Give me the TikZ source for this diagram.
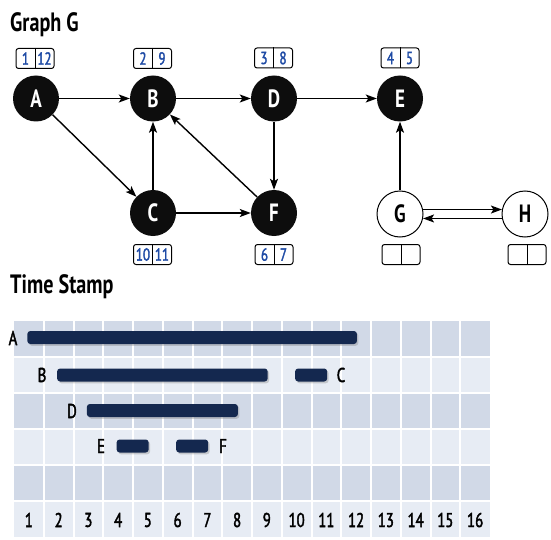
\documentclass[tikz,border=0pt]{standalone}
\usepackage{fontspec}
\setmainfont{PT Sans}[FakeStretch=0.76]
\newfontfamily\medfont{PT Sans}[FakeStretch=0.74, FakeBold=2]
\usetikzlibrary{arrows.meta,shadows,calc}
\definecolor{numblue}{HTML}{1F4BA5}
\definecolor{navy}{HTML}{14284F}
\definecolor{rowdark}{HTML}{D1D9E7}
\definecolor{rowlight}{HTML}{E7ECF4}
\newcommand\tstamp[5]{%
  \node[tsbox] (#1) at (#2,#3) {};
  \draw[line width=1pt] (#1.north) -- (#1.south);
  \node[tsnum] (#1d) at ($(#1.center)+(-9.5,0)$) {#4};
  \node[tsnum] (#1f) at ($(#1.center)+(9.5,0)$) {#5};
}
\newcommand\tbar[4]{% name, y, d, f
  \fill[navy, rounded corners=3pt, drop shadow={shadow xshift=1.5pt, shadow yshift=-1.8pt, opacity=0.35}]
    ({14+29.75*(#3-0.5)-1.5},{#2-6.5}) rectangle ({14+29.75*(#4-0.5)+0.8},{#2+6.5});
  \coordinate (#1) at ({14+29.75*(#3-0.5)},#2);
}
\begin{document}
\begin{tikzpicture}[x=1pt,y=-1pt,
  vtx/.style={circle, fill=black!95, minimum size=46pt, inner sep=0pt, text=white,
    font=\fontsize{25}{25}\selectfont\bfseries},
  wvtx/.style={circle, draw=black, line width=1pt, fill=white, minimum size=46pt, inner sep=0pt,
    font=\fontsize{25}{25}\selectfont\bfseries},
  edge/.style={line width=1.4pt, -{Stealth[length=11pt,width=8pt,inset=2.5pt]}},
  tsbox/.style={draw, line width=1pt, rounded corners=2.5pt, minimum width=38pt, minimum height=20pt, inner sep=0pt},
  tsnum/.style={text=numblue, font=\fontsize{17.5}{17.5}\medfont, inner sep=0pt},
  title/.style={anchor=base west, inner sep=0pt, font=\fontsize{26.5}{26.5}\selectfont\bfseries},
  lbl/.style={inner sep=0pt, font=\fontsize{20}{20}\medfont},
]
\useasboundingbox (0,0) rectangle (551,540);

% titles
\node[title] (t1) at (10,32) {Graph G};
\node[title] (t2) at (10,293) {Time Stamp};

% vertices
\node[vtx] (A) at (36,98.5) {A};
\node[vtx] (B) at (153,98.5) {B};
\node[vtx] (D) at (274,98.5) {D};
\node[vtx] (E) at (400,98.5) {E};
\node[vtx] (C) at (153,213) {C};
\node[vtx] (F) at (274,213) {F};
\node[wvtx] (G) at (400,214) {G};
\node[wvtx] (H) at (525,214) {H};

% time stamp boxes
\tstamp{tA}{35}{58.5}{1}{12}
\tstamp{tB}{152.5}{58.5}{2}{9}
\tstamp{tD}{273.5}{58}{3}{8}
\tstamp{tE}{400}{58}{4}{5}
\tstamp{tC}{152.5}{254.5}{10}{11}
\tstamp{tF}{274}{254.5}{6}{7}
\tstamp{tG}{401}{254.5}{}{}
\tstamp{tH}{527}{254.5}{}{}

% edges
\draw[edge] (A) -- (B);
\draw[edge] (B) -- (D);
\draw[edge] (D) -- (E);
\draw[edge] (A) -- (C);
\draw[edge] (C) -- (B);
\draw[edge] (C) -- (F);
\draw[edge] (F) -- (B);
\draw[edge] (D) -- (F);
\draw[edge] (G) -- (E);
\draw[edge] (G.11) -- (H.169);
\draw[edge] (H.191) -- (G.-11);

% grid
\foreach \r/\c in {0/rowdark,1/rowlight,2/rowdark,3/rowlight,4/rowdark,5/rowlight}
  \fill[\c] (14,{321+36*\r}) rectangle (490,{357+36*\r});
\foreach \i in {1,...,15}
  \draw[white, line width=2pt] ({14+29.75*\i},321) -- ({14+29.75*\i},537);
\foreach \r in {1,...,5}
  \draw[white, line width=2pt] (14,{321+36*\r}) -- (490,{321+36*\r});
\foreach \i in {1,...,16}
  \node[lbl] (n\i) at ({14+29.75*(\i-0.5)},520) {\i};

% bars
\tbar{bA}{337.5}{1}{12}
\tbar{bB}{375}{2}{9}
\tbar{bC}{375}{10}{11}
\tbar{bD}{410.5}{3}{8}
\tbar{bE}{446}{4}{5}
\tbar{bF}{446}{6}{7}

% bar labels
\node[lbl] (lA) at (13,338) {A};
\node[lbl] (lB) at (42,375) {B};
\node[lbl] (lC) at (341,375) {C};
\node[lbl] (lD) at (72,411) {D};
\node[lbl] (lE) at (101,446) {E};
\node[lbl] (lF) at (223,446) {F};
\end{tikzpicture}
\end{document}
